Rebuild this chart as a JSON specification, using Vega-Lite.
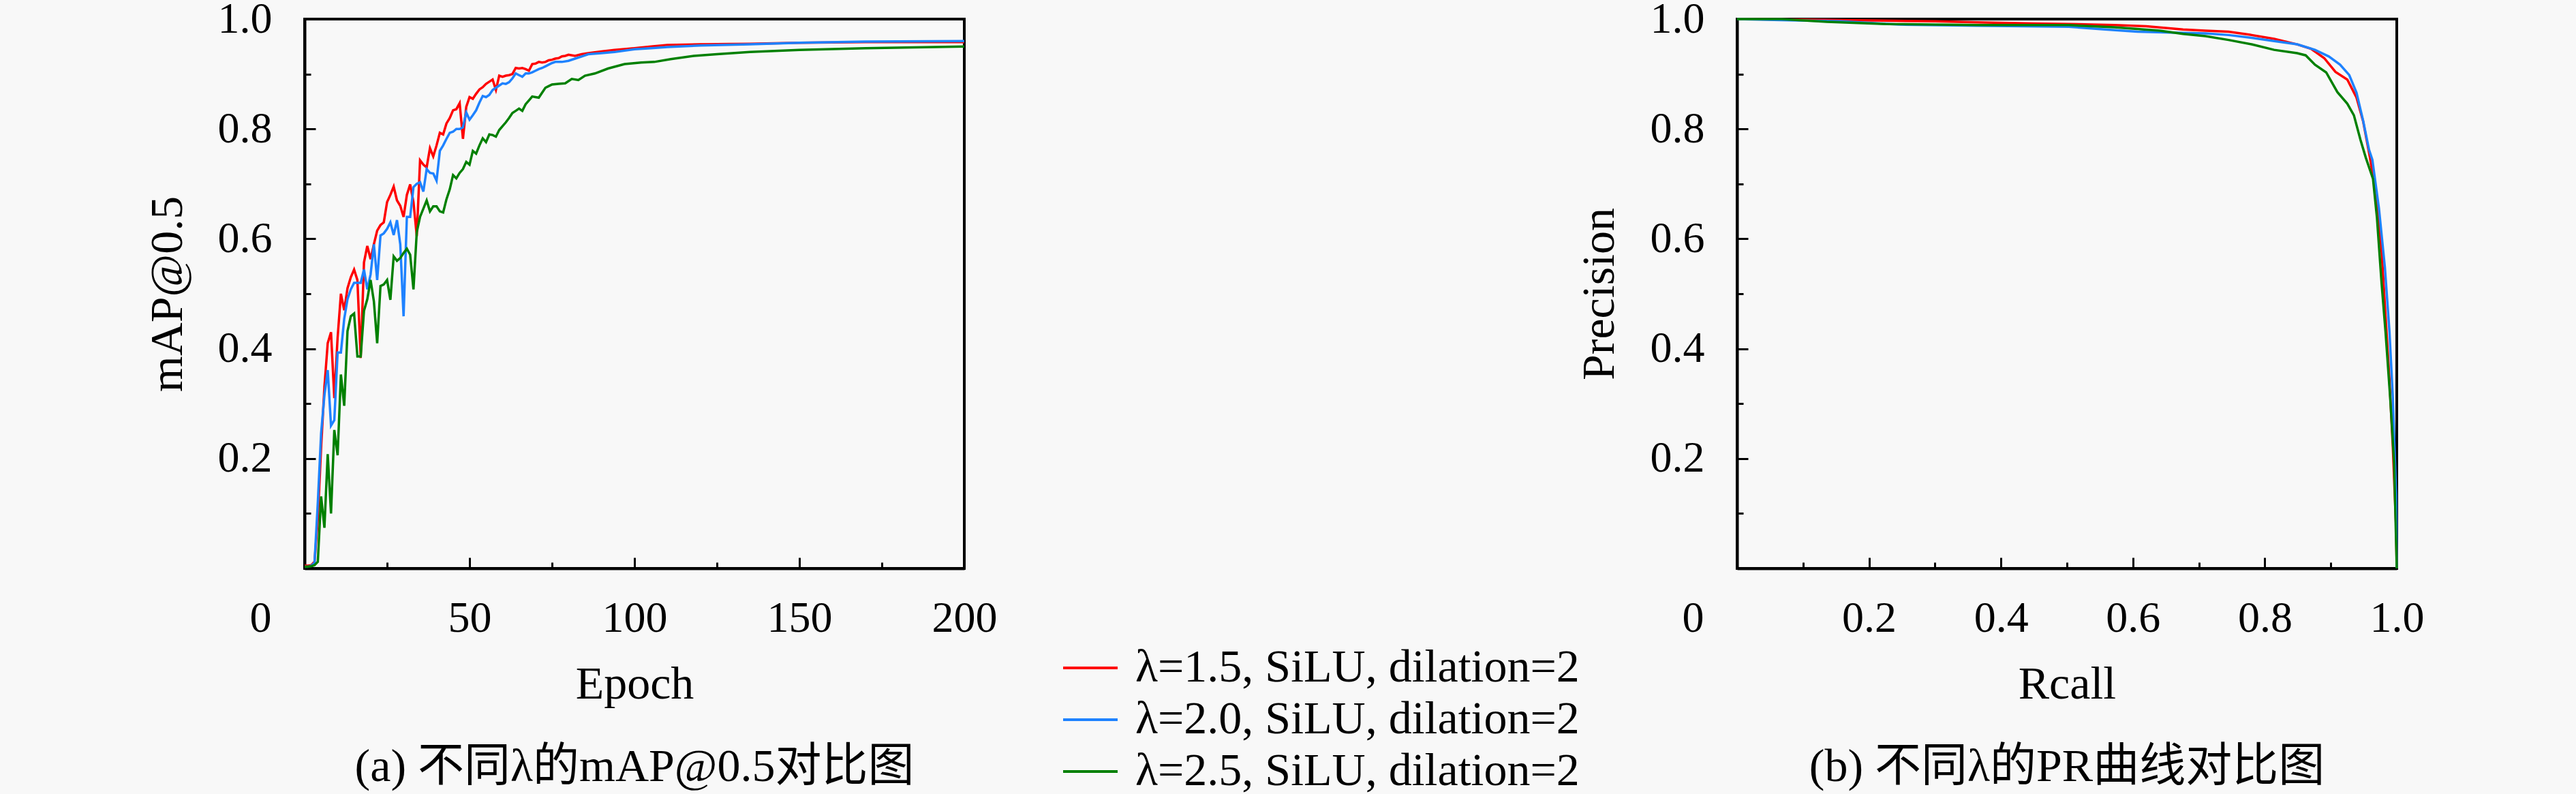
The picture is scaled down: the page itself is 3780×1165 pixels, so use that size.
{
  "$schema": "https://vega.github.io/schema/vega-lite/v6.json",
  "background": "#f8f8f8",
  "padding": {"left": 210, "top": -6, "right": 300, "bottom": 40},
  "config": {
    "font": "Liberation Serif, Noto Sans CJK SC",
    "view": {"stroke": "black", "strokeWidth": 4},
    "axis": {
      "grid": false,
      "domainColor": "black",
      "domainWidth": 4,
      "tickColor": "black",
      "tickWidth": 3,
      "labelFlush": false,
      "labelFont": "Liberation Serif",
      "labelFontSize": 64,
      "labelColor": "black",
      "titleFont": "Liberation Serif",
      "titleFontSize": 68,
      "titleFontWeight": "normal",
      "titleColor": "black"
    },
    "legend": {
      "labelFont": "Liberation Serif",
      "labelFontSize": 68,
      "labelColor": "black",
      "symbolType": "stroke",
      "symbolSize": 6400,
      "symbolStrokeWidth": 4,
      "labelOffset": 24,
      "rowPadding": 0,
      "padding": 0,
      "labelLimit": 1000
    },
    "title": {"font": "Liberation Serif, Noto Sans CJK SC", "fontSize": 68, "fontWeight": "normal", "color": "black"}
  },
  "datasets": {
    "map": [
      {"model": "λ=1.5, SiLU, dilation=2", "epoch": 0, "map": 0.005},
      {"model": "λ=1.5, SiLU, dilation=2", "epoch": 1, "map": 0.005},
      {"model": "λ=1.5, SiLU, dilation=2", "epoch": 2, "map": 0.006},
      {"model": "λ=1.5, SiLU, dilation=2", "epoch": 3, "map": 0.012},
      {"model": "λ=1.5, SiLU, dilation=2", "epoch": 4, "map": 0.09},
      {"model": "λ=1.5, SiLU, dilation=2", "epoch": 5, "map": 0.22},
      {"model": "λ=1.5, SiLU, dilation=2", "epoch": 6, "map": 0.33},
      {"model": "λ=1.5, SiLU, dilation=2", "epoch": 7, "map": 0.41},
      {"model": "λ=1.5, SiLU, dilation=2", "epoch": 8, "map": 0.43},
      {"model": "λ=1.5, SiLU, dilation=2", "epoch": 9, "map": 0.31},
      {"model": "λ=1.5, SiLU, dilation=2", "epoch": 10, "map": 0.42},
      {"model": "λ=1.5, SiLU, dilation=2", "epoch": 11, "map": 0.50},
      {"model": "λ=1.5, SiLU, dilation=2", "epoch": 12, "map": 0.47},
      {"model": "λ=1.5, SiLU, dilation=2", "epoch": 13, "map": 0.51},
      {"model": "λ=1.5, SiLU, dilation=2", "epoch": 14, "map": 0.53},
      {"model": "λ=1.5, SiLU, dilation=2", "epoch": 15, "map": 0.544},
      {"model": "λ=1.5, SiLU, dilation=2", "epoch": 16, "map": 0.525},
      {"model": "λ=1.5, SiLU, dilation=2", "epoch": 17, "map": 0.383},
      {"model": "λ=1.5, SiLU, dilation=2", "epoch": 18, "map": 0.557},
      {"model": "λ=1.5, SiLU, dilation=2", "epoch": 19, "map": 0.587},
      {"model": "λ=1.5, SiLU, dilation=2", "epoch": 20, "map": 0.563},
      {"model": "λ=1.5, SiLU, dilation=2", "epoch": 21, "map": 0.59},
      {"model": "λ=1.5, SiLU, dilation=2", "epoch": 22, "map": 0.615},
      {"model": "λ=1.5, SiLU, dilation=2", "epoch": 23, "map": 0.625},
      {"model": "λ=1.5, SiLU, dilation=2", "epoch": 24, "map": 0.63},
      {"model": "λ=1.5, SiLU, dilation=2", "epoch": 25, "map": 0.667},
      {"model": "λ=1.5, SiLU, dilation=2", "epoch": 26, "map": 0.68},
      {"model": "λ=1.5, SiLU, dilation=2", "epoch": 27, "map": 0.695},
      {"model": "λ=1.5, SiLU, dilation=2", "epoch": 28, "map": 0.67},
      {"model": "λ=1.5, SiLU, dilation=2", "epoch": 29, "map": 0.66},
      {"model": "λ=1.5, SiLU, dilation=2", "epoch": 30, "map": 0.64},
      {"model": "λ=1.5, SiLU, dilation=2", "epoch": 31, "map": 0.68},
      {"model": "λ=1.5, SiLU, dilation=2", "epoch": 32, "map": 0.699},
      {"model": "λ=1.5, SiLU, dilation=2", "epoch": 33, "map": 0.667},
      {"model": "λ=1.5, SiLU, dilation=2", "epoch": 34, "map": 0.605},
      {"model": "λ=1.5, SiLU, dilation=2", "epoch": 35, "map": 0.743},
      {"model": "λ=1.5, SiLU, dilation=2", "epoch": 36, "map": 0.735},
      {"model": "λ=1.5, SiLU, dilation=2", "epoch": 37, "map": 0.73},
      {"model": "λ=1.5, SiLU, dilation=2", "epoch": 38, "map": 0.765},
      {"model": "λ=1.5, SiLU, dilation=2", "epoch": 39, "map": 0.75},
      {"model": "λ=1.5, SiLU, dilation=2", "epoch": 40, "map": 0.77},
      {"model": "λ=1.5, SiLU, dilation=2", "epoch": 41, "map": 0.793},
      {"model": "λ=1.5, SiLU, dilation=2", "epoch": 42, "map": 0.79},
      {"model": "λ=1.5, SiLU, dilation=2", "epoch": 43, "map": 0.81},
      {"model": "λ=1.5, SiLU, dilation=2", "epoch": 44, "map": 0.82},
      {"model": "λ=1.5, SiLU, dilation=2", "epoch": 45, "map": 0.834},
      {"model": "λ=1.5, SiLU, dilation=2", "epoch": 46, "map": 0.836},
      {"model": "λ=1.5, SiLU, dilation=2", "epoch": 47, "map": 0.847},
      {"model": "λ=1.5, SiLU, dilation=2", "epoch": 48, "map": 0.782},
      {"model": "λ=1.5, SiLU, dilation=2", "epoch": 49, "map": 0.84},
      {"model": "λ=1.5, SiLU, dilation=2", "epoch": 50, "map": 0.858},
      {"model": "λ=1.5, SiLU, dilation=2", "epoch": 51, "map": 0.855},
      {"model": "λ=1.5, SiLU, dilation=2", "epoch": 52, "map": 0.864},
      {"model": "λ=1.5, SiLU, dilation=2", "epoch": 53, "map": 0.872},
      {"model": "λ=1.5, SiLU, dilation=2", "epoch": 54, "map": 0.876},
      {"model": "λ=1.5, SiLU, dilation=2", "epoch": 55, "map": 0.882},
      {"model": "λ=1.5, SiLU, dilation=2", "epoch": 56, "map": 0.886},
      {"model": "λ=1.5, SiLU, dilation=2", "epoch": 57, "map": 0.89},
      {"model": "λ=1.5, SiLU, dilation=2", "epoch": 58, "map": 0.871},
      {"model": "λ=1.5, SiLU, dilation=2", "epoch": 59, "map": 0.897},
      {"model": "λ=1.5, SiLU, dilation=2", "epoch": 60, "map": 0.895},
      {"model": "λ=1.5, SiLU, dilation=2", "epoch": 61, "map": 0.897},
      {"model": "λ=1.5, SiLU, dilation=2", "epoch": 62, "map": 0.898},
      {"model": "λ=1.5, SiLU, dilation=2", "epoch": 63, "map": 0.90},
      {"model": "λ=1.5, SiLU, dilation=2", "epoch": 64, "map": 0.911},
      {"model": "λ=1.5, SiLU, dilation=2", "epoch": 65, "map": 0.91},
      {"model": "λ=1.5, SiLU, dilation=2", "epoch": 66, "map": 0.911},
      {"model": "λ=1.5, SiLU, dilation=2", "epoch": 67, "map": 0.909},
      {"model": "λ=1.5, SiLU, dilation=2", "epoch": 68, "map": 0.906},
      {"model": "λ=1.5, SiLU, dilation=2", "epoch": 69, "map": 0.918},
      {"model": "λ=1.5, SiLU, dilation=2", "epoch": 70, "map": 0.919},
      {"model": "λ=1.5, SiLU, dilation=2", "epoch": 71, "map": 0.922},
      {"model": "λ=1.5, SiLU, dilation=2", "epoch": 72, "map": 0.921},
      {"model": "λ=1.5, SiLU, dilation=2", "epoch": 73, "map": 0.922},
      {"model": "λ=1.5, SiLU, dilation=2", "epoch": 74, "map": 0.925},
      {"model": "λ=1.5, SiLU, dilation=2", "epoch": 75, "map": 0.926},
      {"model": "λ=1.5, SiLU, dilation=2", "epoch": 76, "map": 0.928},
      {"model": "λ=1.5, SiLU, dilation=2", "epoch": 77, "map": 0.929},
      {"model": "λ=1.5, SiLU, dilation=2", "epoch": 78, "map": 0.932},
      {"model": "λ=1.5, SiLU, dilation=2", "epoch": 79, "map": 0.933},
      {"model": "λ=1.5, SiLU, dilation=2", "epoch": 80, "map": 0.935},
      {"model": "λ=1.5, SiLU, dilation=2", "epoch": 82, "map": 0.933},
      {"model": "λ=1.5, SiLU, dilation=2", "epoch": 84, "map": 0.936},
      {"model": "λ=1.5, SiLU, dilation=2", "epoch": 86, "map": 0.938},
      {"model": "λ=1.5, SiLU, dilation=2", "epoch": 90, "map": 0.941},
      {"model": "λ=1.5, SiLU, dilation=2", "epoch": 94, "map": 0.944},
      {"model": "λ=1.5, SiLU, dilation=2", "epoch": 100, "map": 0.947},
      {"model": "λ=1.5, SiLU, dilation=2", "epoch": 105, "map": 0.95},
      {"model": "λ=1.5, SiLU, dilation=2", "epoch": 110, "map": 0.953},
      {"model": "λ=1.5, SiLU, dilation=2", "epoch": 120, "map": 0.954},
      {"model": "λ=1.5, SiLU, dilation=2", "epoch": 135, "map": 0.955},
      {"model": "λ=1.5, SiLU, dilation=2", "epoch": 150, "map": 0.957},
      {"model": "λ=1.5, SiLU, dilation=2", "epoch": 170, "map": 0.958},
      {"model": "λ=1.5, SiLU, dilation=2", "epoch": 200, "map": 0.958},
      {"model": "λ=2.0, SiLU, dilation=2", "epoch": 0, "map": 0.003},
      {"model": "λ=2.0, SiLU, dilation=2", "epoch": 1, "map": 0.003},
      {"model": "λ=2.0, SiLU, dilation=2", "epoch": 2, "map": 0.005},
      {"model": "λ=2.0, SiLU, dilation=2", "epoch": 3, "map": 0.01},
      {"model": "λ=2.0, SiLU, dilation=2", "epoch": 4, "map": 0.12},
      {"model": "λ=2.0, SiLU, dilation=2", "epoch": 5, "map": 0.246},
      {"model": "λ=2.0, SiLU, dilation=2", "epoch": 6, "map": 0.315},
      {"model": "λ=2.0, SiLU, dilation=2", "epoch": 7, "map": 0.361},
      {"model": "λ=2.0, SiLU, dilation=2", "epoch": 8, "map": 0.26},
      {"model": "λ=2.0, SiLU, dilation=2", "epoch": 9, "map": 0.27},
      {"model": "λ=2.0, SiLU, dilation=2", "epoch": 10, "map": 0.393},
      {"model": "λ=2.0, SiLU, dilation=2", "epoch": 11, "map": 0.393},
      {"model": "λ=2.0, SiLU, dilation=2", "epoch": 12, "map": 0.454},
      {"model": "λ=2.0, SiLU, dilation=2", "epoch": 13, "map": 0.49},
      {"model": "λ=2.0, SiLU, dilation=2", "epoch": 14, "map": 0.508},
      {"model": "λ=2.0, SiLU, dilation=2", "epoch": 15, "map": 0.52},
      {"model": "λ=2.0, SiLU, dilation=2", "epoch": 16, "map": 0.52},
      {"model": "λ=2.0, SiLU, dilation=2", "epoch": 17, "map": 0.52},
      {"model": "λ=2.0, SiLU, dilation=2", "epoch": 18, "map": 0.544},
      {"model": "λ=2.0, SiLU, dilation=2", "epoch": 19, "map": 0.508},
      {"model": "λ=2.0, SiLU, dilation=2", "epoch": 20, "map": 0.535},
      {"model": "λ=2.0, SiLU, dilation=2", "epoch": 21, "map": 0.59},
      {"model": "λ=2.0, SiLU, dilation=2", "epoch": 22, "map": 0.525},
      {"model": "λ=2.0, SiLU, dilation=2", "epoch": 23, "map": 0.606},
      {"model": "λ=2.0, SiLU, dilation=2", "epoch": 24, "map": 0.61},
      {"model": "λ=2.0, SiLU, dilation=2", "epoch": 25, "map": 0.618},
      {"model": "λ=2.0, SiLU, dilation=2", "epoch": 26, "map": 0.63},
      {"model": "λ=2.0, SiLU, dilation=2", "epoch": 27, "map": 0.607},
      {"model": "λ=2.0, SiLU, dilation=2", "epoch": 28, "map": 0.634},
      {"model": "λ=2.0, SiLU, dilation=2", "epoch": 29, "map": 0.59},
      {"model": "λ=2.0, SiLU, dilation=2", "epoch": 30, "map": 0.459},
      {"model": "λ=2.0, SiLU, dilation=2", "epoch": 31, "map": 0.64},
      {"model": "λ=2.0, SiLU, dilation=2", "epoch": 32, "map": 0.64},
      {"model": "λ=2.0, SiLU, dilation=2", "epoch": 33, "map": 0.694},
      {"model": "λ=2.0, SiLU, dilation=2", "epoch": 34, "map": 0.70},
      {"model": "λ=2.0, SiLU, dilation=2", "epoch": 35, "map": 0.703},
      {"model": "λ=2.0, SiLU, dilation=2", "epoch": 36, "map": 0.686},
      {"model": "λ=2.0, SiLU, dilation=2", "epoch": 37, "map": 0.727},
      {"model": "λ=2.0, SiLU, dilation=2", "epoch": 38, "map": 0.72},
      {"model": "λ=2.0, SiLU, dilation=2", "epoch": 39, "map": 0.719},
      {"model": "λ=2.0, SiLU, dilation=2", "epoch": 40, "map": 0.706},
      {"model": "λ=2.0, SiLU, dilation=2", "epoch": 41, "map": 0.76},
      {"model": "λ=2.0, SiLU, dilation=2", "epoch": 42, "map": 0.77},
      {"model": "λ=2.0, SiLU, dilation=2", "epoch": 43, "map": 0.782},
      {"model": "λ=2.0, SiLU, dilation=2", "epoch": 44, "map": 0.793},
      {"model": "λ=2.0, SiLU, dilation=2", "epoch": 45, "map": 0.795},
      {"model": "λ=2.0, SiLU, dilation=2", "epoch": 46, "map": 0.80},
      {"model": "λ=2.0, SiLU, dilation=2", "epoch": 47, "map": 0.80},
      {"model": "λ=2.0, SiLU, dilation=2", "epoch": 48, "map": 0.803},
      {"model": "λ=2.0, SiLU, dilation=2", "epoch": 49, "map": 0.83},
      {"model": "λ=2.0, SiLU, dilation=2", "epoch": 50, "map": 0.817},
      {"model": "λ=2.0, SiLU, dilation=2", "epoch": 51, "map": 0.825},
      {"model": "λ=2.0, SiLU, dilation=2", "epoch": 52, "map": 0.834},
      {"model": "λ=2.0, SiLU, dilation=2", "epoch": 53, "map": 0.848},
      {"model": "λ=2.0, SiLU, dilation=2", "epoch": 54, "map": 0.86},
      {"model": "λ=2.0, SiLU, dilation=2", "epoch": 55, "map": 0.858},
      {"model": "λ=2.0, SiLU, dilation=2", "epoch": 56, "map": 0.862},
      {"model": "λ=2.0, SiLU, dilation=2", "epoch": 57, "map": 0.871},
      {"model": "λ=2.0, SiLU, dilation=2", "epoch": 58, "map": 0.875},
      {"model": "λ=2.0, SiLU, dilation=2", "epoch": 59, "map": 0.879},
      {"model": "λ=2.0, SiLU, dilation=2", "epoch": 60, "map": 0.883},
      {"model": "λ=2.0, SiLU, dilation=2", "epoch": 61, "map": 0.882},
      {"model": "λ=2.0, SiLU, dilation=2", "epoch": 62, "map": 0.885},
      {"model": "λ=2.0, SiLU, dilation=2", "epoch": 63, "map": 0.892},
      {"model": "λ=2.0, SiLU, dilation=2", "epoch": 64, "map": 0.901},
      {"model": "λ=2.0, SiLU, dilation=2", "epoch": 65, "map": 0.898},
      {"model": "λ=2.0, SiLU, dilation=2", "epoch": 66, "map": 0.895},
      {"model": "λ=2.0, SiLU, dilation=2", "epoch": 67, "map": 0.901},
      {"model": "λ=2.0, SiLU, dilation=2", "epoch": 68, "map": 0.901},
      {"model": "λ=2.0, SiLU, dilation=2", "epoch": 69, "map": 0.903},
      {"model": "λ=2.0, SiLU, dilation=2", "epoch": 70, "map": 0.906},
      {"model": "λ=2.0, SiLU, dilation=2", "epoch": 71, "map": 0.909},
      {"model": "λ=2.0, SiLU, dilation=2", "epoch": 72, "map": 0.911},
      {"model": "λ=2.0, SiLU, dilation=2", "epoch": 73, "map": 0.914},
      {"model": "λ=2.0, SiLU, dilation=2", "epoch": 74, "map": 0.917},
      {"model": "λ=2.0, SiLU, dilation=2", "epoch": 75, "map": 0.92},
      {"model": "λ=2.0, SiLU, dilation=2", "epoch": 76, "map": 0.922},
      {"model": "λ=2.0, SiLU, dilation=2", "epoch": 78, "map": 0.922},
      {"model": "λ=2.0, SiLU, dilation=2", "epoch": 80, "map": 0.924},
      {"model": "λ=2.0, SiLU, dilation=2", "epoch": 82, "map": 0.928},
      {"model": "λ=2.0, SiLU, dilation=2", "epoch": 84, "map": 0.932},
      {"model": "λ=2.0, SiLU, dilation=2", "epoch": 86, "map": 0.936},
      {"model": "λ=2.0, SiLU, dilation=2", "epoch": 90, "map": 0.938},
      {"model": "λ=2.0, SiLU, dilation=2", "epoch": 94, "map": 0.94},
      {"model": "λ=2.0, SiLU, dilation=2", "epoch": 100, "map": 0.945},
      {"model": "λ=2.0, SiLU, dilation=2", "epoch": 105, "map": 0.947},
      {"model": "λ=2.0, SiLU, dilation=2", "epoch": 110, "map": 0.949},
      {"model": "λ=2.0, SiLU, dilation=2", "epoch": 120, "map": 0.952},
      {"model": "λ=2.0, SiLU, dilation=2", "epoch": 135, "map": 0.954},
      {"model": "λ=2.0, SiLU, dilation=2", "epoch": 150, "map": 0.957},
      {"model": "λ=2.0, SiLU, dilation=2", "epoch": 170, "map": 0.959},
      {"model": "λ=2.0, SiLU, dilation=2", "epoch": 200, "map": 0.96},
      {"model": "λ=2.5, SiLU, dilation=2", "epoch": 0, "map": 0.003},
      {"model": "λ=2.5, SiLU, dilation=2", "epoch": 1, "map": 0.003},
      {"model": "λ=2.5, SiLU, dilation=2", "epoch": 2, "map": 0.004},
      {"model": "λ=2.5, SiLU, dilation=2", "epoch": 3, "map": 0.006},
      {"model": "λ=2.5, SiLU, dilation=2", "epoch": 4, "map": 0.012},
      {"model": "λ=2.5, SiLU, dilation=2", "epoch": 5, "map": 0.131},
      {"model": "λ=2.5, SiLU, dilation=2", "epoch": 6, "map": 0.074},
      {"model": "λ=2.5, SiLU, dilation=2", "epoch": 7, "map": 0.208},
      {"model": "λ=2.5, SiLU, dilation=2", "epoch": 8, "map": 0.10},
      {"model": "λ=2.5, SiLU, dilation=2", "epoch": 9, "map": 0.252},
      {"model": "λ=2.5, SiLU, dilation=2", "epoch": 10, "map": 0.206},
      {"model": "λ=2.5, SiLU, dilation=2", "epoch": 11, "map": 0.353},
      {"model": "λ=2.5, SiLU, dilation=2", "epoch": 12, "map": 0.296},
      {"model": "λ=2.5, SiLU, dilation=2", "epoch": 13, "map": 0.432},
      {"model": "λ=2.5, SiLU, dilation=2", "epoch": 14, "map": 0.459},
      {"model": "λ=2.5, SiLU, dilation=2", "epoch": 15, "map": 0.464},
      {"model": "λ=2.5, SiLU, dilation=2", "epoch": 16, "map": 0.386},
      {"model": "λ=2.5, SiLU, dilation=2", "epoch": 17, "map": 0.386},
      {"model": "λ=2.5, SiLU, dilation=2", "epoch": 18, "map": 0.469},
      {"model": "λ=2.5, SiLU, dilation=2", "epoch": 19, "map": 0.49},
      {"model": "λ=2.5, SiLU, dilation=2", "epoch": 20, "map": 0.525},
      {"model": "λ=2.5, SiLU, dilation=2", "epoch": 21, "map": 0.486},
      {"model": "λ=2.5, SiLU, dilation=2", "epoch": 22, "map": 0.41},
      {"model": "λ=2.5, SiLU, dilation=2", "epoch": 23, "map": 0.514},
      {"model": "λ=2.5, SiLU, dilation=2", "epoch": 24, "map": 0.517},
      {"model": "λ=2.5, SiLU, dilation=2", "epoch": 25, "map": 0.525},
      {"model": "λ=2.5, SiLU, dilation=2", "epoch": 26, "map": 0.489},
      {"model": "λ=2.5, SiLU, dilation=2", "epoch": 27, "map": 0.568},
      {"model": "λ=2.5, SiLU, dilation=2", "epoch": 28, "map": 0.56},
      {"model": "λ=2.5, SiLU, dilation=2", "epoch": 29, "map": 0.565},
      {"model": "λ=2.5, SiLU, dilation=2", "epoch": 30, "map": 0.574},
      {"model": "λ=2.5, SiLU, dilation=2", "epoch": 31, "map": 0.582},
      {"model": "λ=2.5, SiLU, dilation=2", "epoch": 32, "map": 0.571},
      {"model": "λ=2.5, SiLU, dilation=2", "epoch": 33, "map": 0.508},
      {"model": "λ=2.5, SiLU, dilation=2", "epoch": 34, "map": 0.612},
      {"model": "λ=2.5, SiLU, dilation=2", "epoch": 35, "map": 0.64},
      {"model": "λ=2.5, SiLU, dilation=2", "epoch": 36, "map": 0.655},
      {"model": "λ=2.5, SiLU, dilation=2", "epoch": 37, "map": 0.67},
      {"model": "λ=2.5, SiLU, dilation=2", "epoch": 38, "map": 0.65},
      {"model": "λ=2.5, SiLU, dilation=2", "epoch": 39, "map": 0.659},
      {"model": "λ=2.5, SiLU, dilation=2", "epoch": 40, "map": 0.659},
      {"model": "λ=2.5, SiLU, dilation=2", "epoch": 41, "map": 0.65},
      {"model": "λ=2.5, SiLU, dilation=2", "epoch": 42, "map": 0.648},
      {"model": "λ=2.5, SiLU, dilation=2", "epoch": 43, "map": 0.672},
      {"model": "λ=2.5, SiLU, dilation=2", "epoch": 44, "map": 0.69},
      {"model": "λ=2.5, SiLU, dilation=2", "epoch": 45, "map": 0.716},
      {"model": "λ=2.5, SiLU, dilation=2", "epoch": 46, "map": 0.71},
      {"model": "λ=2.5, SiLU, dilation=2", "epoch": 47, "map": 0.72},
      {"model": "λ=2.5, SiLU, dilation=2", "epoch": 48, "map": 0.727},
      {"model": "λ=2.5, SiLU, dilation=2", "epoch": 49, "map": 0.74},
      {"model": "λ=2.5, SiLU, dilation=2", "epoch": 50, "map": 0.735},
      {"model": "λ=2.5, SiLU, dilation=2", "epoch": 51, "map": 0.76},
      {"model": "λ=2.5, SiLU, dilation=2", "epoch": 52, "map": 0.755},
      {"model": "λ=2.5, SiLU, dilation=2", "epoch": 53, "map": 0.77},
      {"model": "λ=2.5, SiLU, dilation=2", "epoch": 54, "map": 0.783},
      {"model": "λ=2.5, SiLU, dilation=2", "epoch": 55, "map": 0.776},
      {"model": "λ=2.5, SiLU, dilation=2", "epoch": 56, "map": 0.79},
      {"model": "λ=2.5, SiLU, dilation=2", "epoch": 57, "map": 0.789},
      {"model": "λ=2.5, SiLU, dilation=2", "epoch": 58, "map": 0.786},
      {"model": "λ=2.5, SiLU, dilation=2", "epoch": 59, "map": 0.798},
      {"model": "λ=2.5, SiLU, dilation=2", "epoch": 60, "map": 0.805},
      {"model": "λ=2.5, SiLU, dilation=2", "epoch": 61, "map": 0.812},
      {"model": "λ=2.5, SiLU, dilation=2", "epoch": 62, "map": 0.82},
      {"model": "λ=2.5, SiLU, dilation=2", "epoch": 63, "map": 0.829},
      {"model": "λ=2.5, SiLU, dilation=2", "epoch": 64, "map": 0.833},
      {"model": "λ=2.5, SiLU, dilation=2", "epoch": 65, "map": 0.837},
      {"model": "λ=2.5, SiLU, dilation=2", "epoch": 66, "map": 0.833},
      {"model": "λ=2.5, SiLU, dilation=2", "epoch": 67, "map": 0.845},
      {"model": "λ=2.5, SiLU, dilation=2", "epoch": 68, "map": 0.852},
      {"model": "λ=2.5, SiLU, dilation=2", "epoch": 69, "map": 0.859},
      {"model": "λ=2.5, SiLU, dilation=2", "epoch": 70, "map": 0.858},
      {"model": "λ=2.5, SiLU, dilation=2", "epoch": 71, "map": 0.857},
      {"model": "λ=2.5, SiLU, dilation=2", "epoch": 72, "map": 0.866},
      {"model": "λ=2.5, SiLU, dilation=2", "epoch": 73, "map": 0.875},
      {"model": "λ=2.5, SiLU, dilation=2", "epoch": 74, "map": 0.878},
      {"model": "λ=2.5, SiLU, dilation=2", "epoch": 75, "map": 0.881},
      {"model": "λ=2.5, SiLU, dilation=2", "epoch": 77, "map": 0.882},
      {"model": "λ=2.5, SiLU, dilation=2", "epoch": 79, "map": 0.883},
      {"model": "λ=2.5, SiLU, dilation=2", "epoch": 81, "map": 0.891},
      {"model": "λ=2.5, SiLU, dilation=2", "epoch": 83, "map": 0.889},
      {"model": "λ=2.5, SiLU, dilation=2", "epoch": 85, "map": 0.897},
      {"model": "λ=2.5, SiLU, dilation=2", "epoch": 88, "map": 0.901},
      {"model": "λ=2.5, SiLU, dilation=2", "epoch": 92, "map": 0.91},
      {"model": "λ=2.5, SiLU, dilation=2", "epoch": 97, "map": 0.918},
      {"model": "λ=2.5, SiLU, dilation=2", "epoch": 102, "map": 0.921},
      {"model": "λ=2.5, SiLU, dilation=2", "epoch": 106, "map": 0.922},
      {"model": "λ=2.5, SiLU, dilation=2", "epoch": 111, "map": 0.927},
      {"model": "λ=2.5, SiLU, dilation=2", "epoch": 118, "map": 0.933},
      {"model": "λ=2.5, SiLU, dilation=2", "epoch": 125, "map": 0.936},
      {"model": "λ=2.5, SiLU, dilation=2", "epoch": 135, "map": 0.94},
      {"model": "λ=2.5, SiLU, dilation=2", "epoch": 150, "map": 0.944},
      {"model": "λ=2.5, SiLU, dilation=2", "epoch": 170, "map": 0.947},
      {"model": "λ=2.5, SiLU, dilation=2", "epoch": 200, "map": 0.95}
    ],
    "pr": [
      {"model": "λ=1.5, SiLU, dilation=2", "recall": 0, "precision": 1.0},
      {"model": "λ=1.5, SiLU, dilation=2", "recall": 0.1, "precision": 0.999},
      {"model": "λ=1.5, SiLU, dilation=2", "recall": 0.205, "precision": 0.9975},
      {"model": "λ=1.5, SiLU, dilation=2", "recall": 0.3, "precision": 0.996},
      {"model": "λ=1.5, SiLU, dilation=2", "recall": 0.365, "precision": 0.994},
      {"model": "λ=1.5, SiLU, dilation=2", "recall": 0.45, "precision": 0.992},
      {"model": "λ=1.5, SiLU, dilation=2", "recall": 0.503, "precision": 0.991},
      {"model": "λ=1.5, SiLU, dilation=2", "recall": 0.572, "precision": 0.989},
      {"model": "λ=1.5, SiLU, dilation=2", "recall": 0.62, "precision": 0.987},
      {"model": "λ=1.5, SiLU, dilation=2", "recall": 0.676, "precision": 0.981},
      {"model": "λ=1.5, SiLU, dilation=2", "recall": 0.71, "precision": 0.979},
      {"model": "λ=1.5, SiLU, dilation=2", "recall": 0.745, "precision": 0.977},
      {"model": "λ=1.5, SiLU, dilation=2", "recall": 0.78, "precision": 0.971},
      {"model": "λ=1.5, SiLU, dilation=2", "recall": 0.814, "precision": 0.964},
      {"model": "λ=1.5, SiLU, dilation=2", "recall": 0.849, "precision": 0.954},
      {"model": "λ=1.5, SiLU, dilation=2", "recall": 0.87, "precision": 0.946},
      {"model": "λ=1.5, SiLU, dilation=2", "recall": 0.89, "precision": 0.929},
      {"model": "λ=1.5, SiLU, dilation=2", "recall": 0.907, "precision": 0.904},
      {"model": "λ=1.5, SiLU, dilation=2", "recall": 0.925, "precision": 0.89},
      {"model": "λ=1.5, SiLU, dilation=2", "recall": 0.939, "precision": 0.857},
      {"model": "λ=1.5, SiLU, dilation=2", "recall": 0.949, "precision": 0.814},
      {"model": "λ=1.5, SiLU, dilation=2", "recall": 0.959, "precision": 0.75},
      {"model": "λ=1.5, SiLU, dilation=2", "recall": 0.966, "precision": 0.7},
      {"model": "λ=1.5, SiLU, dilation=2", "recall": 0.97, "precision": 0.667},
      {"model": "λ=1.5, SiLU, dilation=2", "recall": 0.977, "precision": 0.578},
      {"model": "λ=1.5, SiLU, dilation=2", "recall": 0.983, "precision": 0.459},
      {"model": "λ=1.5, SiLU, dilation=2", "recall": 0.989, "precision": 0.341},
      {"model": "λ=1.5, SiLU, dilation=2", "recall": 0.994, "precision": 0.222},
      {"model": "λ=1.5, SiLU, dilation=2", "recall": 0.999, "precision": 0.074},
      {"model": "λ=1.5, SiLU, dilation=2", "recall": 1.0, "precision": 0.0},
      {"model": "λ=2.0, SiLU, dilation=2", "recall": 0, "precision": 1.0},
      {"model": "λ=2.0, SiLU, dilation=2", "recall": 0.067, "precision": 0.998},
      {"model": "λ=2.0, SiLU, dilation=2", "recall": 0.157, "precision": 0.996},
      {"model": "λ=2.0, SiLU, dilation=2", "recall": 0.246, "precision": 0.99},
      {"model": "λ=2.0, SiLU, dilation=2", "recall": 0.365, "precision": 0.988},
      {"model": "λ=2.0, SiLU, dilation=2", "recall": 0.503, "precision": 0.986},
      {"model": "λ=2.0, SiLU, dilation=2", "recall": 0.558, "precision": 0.981},
      {"model": "λ=2.0, SiLU, dilation=2", "recall": 0.607, "precision": 0.977},
      {"model": "λ=2.0, SiLU, dilation=2", "recall": 0.676, "precision": 0.975},
      {"model": "λ=2.0, SiLU, dilation=2", "recall": 0.71, "precision": 0.974},
      {"model": "λ=2.0, SiLU, dilation=2", "recall": 0.745, "precision": 0.971},
      {"model": "λ=2.0, SiLU, dilation=2", "recall": 0.78, "precision": 0.966},
      {"model": "λ=2.0, SiLU, dilation=2", "recall": 0.814, "precision": 0.96},
      {"model": "λ=2.0, SiLU, dilation=2", "recall": 0.849, "precision": 0.954},
      {"model": "λ=2.0, SiLU, dilation=2", "recall": 0.876, "precision": 0.944},
      {"model": "λ=2.0, SiLU, dilation=2", "recall": 0.897, "precision": 0.932},
      {"model": "λ=2.0, SiLU, dilation=2", "recall": 0.914, "precision": 0.917},
      {"model": "λ=2.0, SiLU, dilation=2", "recall": 0.928, "precision": 0.898},
      {"model": "λ=2.0, SiLU, dilation=2", "recall": 0.939, "precision": 0.866},
      {"model": "λ=2.0, SiLU, dilation=2", "recall": 0.949, "precision": 0.815},
      {"model": "λ=2.0, SiLU, dilation=2", "recall": 0.958, "precision": 0.762},
      {"model": "λ=2.0, SiLU, dilation=2", "recall": 0.963, "precision": 0.744},
      {"model": "λ=2.0, SiLU, dilation=2", "recall": 0.973, "precision": 0.655},
      {"model": "λ=2.0, SiLU, dilation=2", "recall": 0.982, "precision": 0.548},
      {"model": "λ=2.0, SiLU, dilation=2", "recall": 0.989, "precision": 0.43},
      {"model": "λ=2.0, SiLU, dilation=2", "recall": 0.994, "precision": 0.311},
      {"model": "λ=2.0, SiLU, dilation=2", "recall": 0.999, "precision": 0.133},
      {"model": "λ=2.0, SiLU, dilation=2", "recall": 1.0, "precision": 0.0},
      {"model": "λ=2.5, SiLU, dilation=2", "recall": 0, "precision": 1.0},
      {"model": "λ=2.5, SiLU, dilation=2", "recall": 0.067, "precision": 1.0},
      {"model": "λ=2.5, SiLU, dilation=2", "recall": 0.136, "precision": 0.995},
      {"model": "λ=2.5, SiLU, dilation=2", "recall": 0.225, "precision": 0.991},
      {"model": "λ=2.5, SiLU, dilation=2", "recall": 0.365, "precision": 0.989},
      {"model": "λ=2.5, SiLU, dilation=2", "recall": 0.503, "precision": 0.989},
      {"model": "λ=2.5, SiLU, dilation=2", "recall": 0.572, "precision": 0.985},
      {"model": "λ=2.5, SiLU, dilation=2", "recall": 0.641, "precision": 0.979},
      {"model": "λ=2.5, SiLU, dilation=2", "recall": 0.676, "precision": 0.973},
      {"model": "λ=2.5, SiLU, dilation=2", "recall": 0.71, "precision": 0.969},
      {"model": "λ=2.5, SiLU, dilation=2", "recall": 0.745, "precision": 0.962},
      {"model": "λ=2.5, SiLU, dilation=2", "recall": 0.78, "precision": 0.954},
      {"model": "λ=2.5, SiLU, dilation=2", "recall": 0.814, "precision": 0.944},
      {"model": "λ=2.5, SiLU, dilation=2", "recall": 0.849, "precision": 0.938},
      {"model": "λ=2.5, SiLU, dilation=2", "recall": 0.862, "precision": 0.934},
      {"model": "λ=2.5, SiLU, dilation=2", "recall": 0.876, "precision": 0.917},
      {"model": "λ=2.5, SiLU, dilation=2", "recall": 0.893, "precision": 0.903},
      {"model": "λ=2.5, SiLU, dilation=2", "recall": 0.91, "precision": 0.867},
      {"model": "λ=2.5, SiLU, dilation=2", "recall": 0.925, "precision": 0.846},
      {"model": "λ=2.5, SiLU, dilation=2", "recall": 0.935, "precision": 0.825},
      {"model": "λ=2.5, SiLU, dilation=2", "recall": 0.945, "precision": 0.78},
      {"model": "λ=2.5, SiLU, dilation=2", "recall": 0.953, "precision": 0.748},
      {"model": "λ=2.5, SiLU, dilation=2", "recall": 0.964, "precision": 0.709},
      {"model": "λ=2.5, SiLU, dilation=2", "recall": 0.97, "precision": 0.638},
      {"model": "λ=2.5, SiLU, dilation=2", "recall": 0.977, "precision": 0.519},
      {"model": "λ=2.5, SiLU, dilation=2", "recall": 0.983, "precision": 0.43},
      {"model": "λ=2.5, SiLU, dilation=2", "recall": 0.99, "precision": 0.311},
      {"model": "λ=2.5, SiLU, dilation=2", "recall": 0.996, "precision": 0.192},
      {"model": "λ=2.5, SiLU, dilation=2", "recall": 1.0, "precision": 0.0}
    ]
  },
  "spacing": 846,
  "resolve": {"scale": {"color": "shared"}},
  "hconcat": [
    {
      "width": 968,
      "height": 806,
      "data": {"name": "map"},
      "title": {"text": "(a) 不同λ的mAP@0.5对比图", "orient": "bottom", "frame": "group", "anchor": "middle", "offset": 54},
      "mark": {"type": "line", "strokeWidth": 3.5},
      "encoding": {
        "x": {
          "field": "epoch", "type": "quantitative",
          "scale": {"domain": [0, 200], "nice": false},
          "axis": {
            "title": "Epoch",
            "values": [0, 25, 50, 75, 100, 125, 150, 175, 200],
            "labelExpr": "datum.value % 50 === 0 ? datum.label : ''",
            "tickSize": {"condition": {"test": "datum.value % 50 !== 0", "value": -9}, "value": -16},
            "labelOffset": {"condition": {"test": "datum.value === 0", "value": -65}, "value": 0},
            "labelPadding": 57,
            "titlePadding": 31
          }
        },
        "y": {
          "field": "map", "type": "quantitative",
          "scale": {"domain": [0, 1], "nice": false},
          "axis": {
            "title": "mAP@0.5",
            "values": [0.1, 0.2, 0.3, 0.4, 0.5, 0.6, 0.7, 0.8, 0.9, 1.0],
            "labelExpr": "round(datum.value * 10) % 2 === 1 ? '' : format(datum.value, '.1f')",
            "tickSize": {"condition": {"test": "round(datum.value * 10) % 2 === 1", "value": -9}, "value": -16},
            "labelPadding": 64,
            "titlePadding": 39
          }
        },
        "color": {
          "field": "model", "type": "nominal",
          "scale": {"domain": ["λ=1.5, SiLU, dilation=2", "λ=2.0, SiLU, dilation=2", "λ=2.5, SiLU, dilation=2"], "range": ["#ff0000", "#1e82ff", "#008000"]},
          "legend": {"title": null, "orient": "none", "legendX": 1111, "legendY": 910}
        }
      }
    },
    {
      "width": 968,
      "height": 806,
      "data": {"name": "pr"},
      "title": {"text": "(b) 不同λ的PR曲线对比图", "orient": "bottom", "frame": "group", "anchor": "middle", "offset": 54},
      "mark": {"type": "line", "strokeWidth": 3.5},
      "encoding": {
        "x": {
          "field": "recall", "type": "quantitative",
          "scale": {"domain": [0, 1], "nice": false},
          "axis": {
            "title": "Rcall",
            "values": [0, 0.1, 0.2, 0.3, 0.4, 0.5, 0.6, 0.7, 0.8, 0.9, 1.0],
            "labelExpr": "round(datum.value * 10) % 2 === 1 ? '' : (datum.value === 0 ? '0' : format(datum.value, '.1f'))",
            "tickSize": {"condition": {"test": "round(datum.value * 10) % 2 === 1", "value": -9}, "value": -16},
            "labelOffset": {"condition": {"test": "datum.value === 0", "value": -65}, "value": 0},
            "labelPadding": 57,
            "titlePadding": 31
          }
        },
        "y": {
          "field": "precision", "type": "quantitative",
          "scale": {"domain": [0, 1], "nice": false},
          "axis": {
            "title": "Precision",
            "values": [0.1, 0.2, 0.3, 0.4, 0.5, 0.6, 0.7, 0.8, 0.9, 1.0],
            "labelExpr": "round(datum.value * 10) % 2 === 1 ? '' : format(datum.value, '.1f')",
            "tickSize": {"condition": {"test": "round(datum.value * 10) % 2 === 1", "value": -9}, "value": -16},
            "labelPadding": 64,
            "titlePadding": 40
          }
        },
        "color": {
          "field": "model", "type": "nominal",
          "scale": {"domain": ["λ=1.5, SiLU, dilation=2", "λ=2.0, SiLU, dilation=2", "λ=2.5, SiLU, dilation=2"], "range": ["#ff0000", "#1e82ff", "#008000"]},
          "legend": {"title": null, "orient": "none", "legendX": 1111, "legendY": 910}
        }
      }
    }
  ]
}
